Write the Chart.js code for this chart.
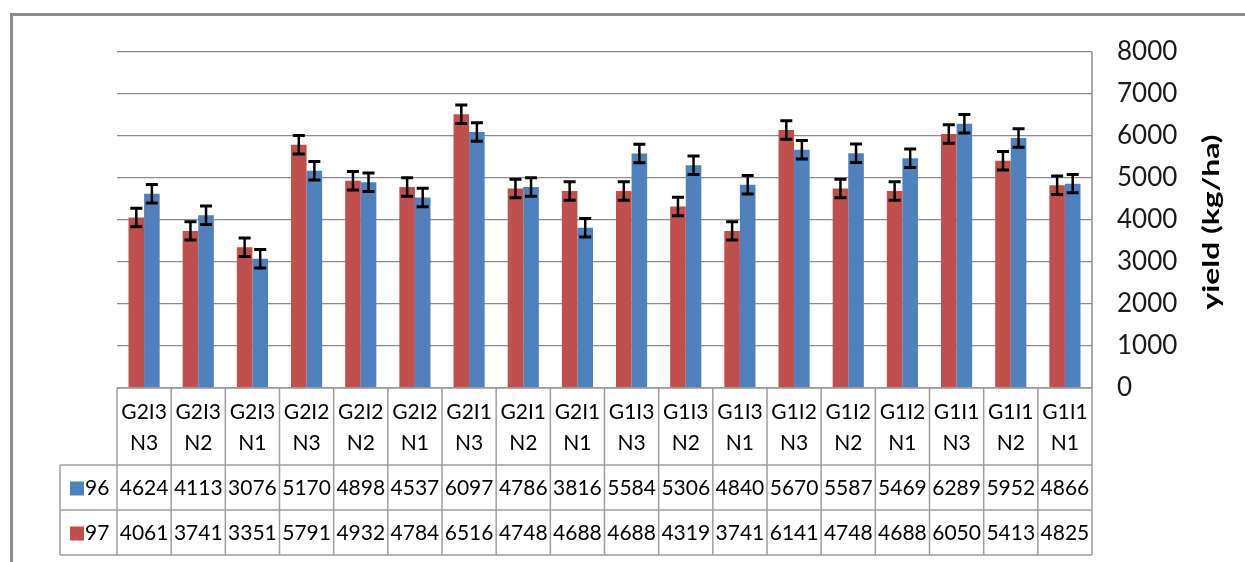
<!DOCTYPE html>
<html>
<head>
<meta charset="utf-8">
<script src="https://cdn.jsdelivr.net/npm/chart.js@4.4.1/dist/chart.umd.min.js"></script>
<style>
  html, body { margin: 0; padding: 0; background: #ffffff; }
  #wrap { width: 1245px; height: 562px; position: relative; }
  canvas { display: block; }
</style>
</head>
<body>
<div id="wrap"><canvas id="c" width="1245" height="562"></canvas></div>
<script>
// ---- data ----
const line1 = ["G2I3","G2I3","G2I3","G2I2","G2I2","G2I2","G2I1","G2I1","G2I1","G1I3","G1I3","G1I3","G1I2","G1I2","G1I2","G1I1","G1I1","G1I1"];
const line2 = ["N3","N2","N1","N3","N2","N1","N3","N2","N1","N3","N2","N1","N3","N2","N1","N3","N2","N1"];
const series96 = [4624,4113,3076,5170,4898,4537,6097,4786,3816,5584,5306,4840,5670,5587,5469,6289,5952,4866];
const series97 = [4061,3741,3351,5791,4932,4784,6516,4748,4688,4688,4319,3741,6141,4748,4688,6050,5413,4825];
const err96 = [220,220,220,220,220,220,220,220,220,220,220,220,220,220,220,220,220,220];
const err97 = [220,220,220,220,220,220,220,220,220,220,220,220,220,220,220,220,220,220];
const yTicks = [0,1000,2000,3000,4000,5000,6000,7000,8000];
const axisTitle = "yield (kg/ha)";
const name96 = "96", name97 = "97";

const RED = "#C0504D", BLUE = "#4F81BD";
const GRID = "#8c8c8c", TABLE = "#9e9e9e";
const FONT = "Lato, 'Open Sans', sans-serif";

const categories = line1.map((a, i) => [a, line2[i]]);

const ROW1_BOTTOM = 465, ROW2_BOTTOM = 510, ROW3_BOTTOM = 555, LABEL_LEFT = 60;

const framePlugin = {
  id: 'frame',
  beforeDraw(chart) {
    const ctx = chart.ctx;
    ctx.save();
    ctx.fillStyle = '#ffffff';
    ctx.fillRect(0, 0, chart.width, chart.height);
    ctx.strokeStyle = '#8c8c8c';
    ctx.lineWidth = 3;
    ctx.beginPath();
    ctx.moveTo(11.5, 562);
    ctx.lineTo(11.5, 14.5);
    ctx.lineTo(1245, 14.5);
    ctx.stroke();
    ctx.restore();
  }
};

const errorBarPlugin = {
  id: 'errorBars',
  afterDatasetsDraw(chart) {
    const ctx = chart.ctx;
    const ys = chart.scales.y;
    const errs = [err97, err96];
    ctx.save();
    ctx.strokeStyle = '#000000';
    chart.data.datasets.forEach((ds, di) => {
      const meta = chart.getDatasetMeta(di);
      meta.data.forEach((bar, i) => {
        const v = ds.data[i], e = errs[di][i];
        const yt = ys.getPixelForValue(v + e);
        const yb = ys.getPixelForValue(v - e);
        const x = bar.x;
        ctx.lineWidth = 2.5;
        ctx.beginPath();
        ctx.moveTo(x, yt); ctx.lineTo(x, yb);
        ctx.stroke();
        ctx.lineWidth = 3;
        ctx.beginPath();
        ctx.moveTo(x - 6, yt); ctx.lineTo(x + 6, yt);
        ctx.moveTo(x - 6, yb); ctx.lineTo(x + 6, yb);
        ctx.stroke();
      });
    });
    ctx.restore();
  }
};

const tablePlugin = {
  id: 'dataTable',
  afterDraw(chart) {
    const ctx = chart.ctx;
    const xs = chart.scales.x;
    const ys = chart.scales.y;
    const left = xs.left, right = xs.right;
    const n = categories.length;
    const w = (right - left) / n;
    const top = ys.getPixelForValue(0);
    ctx.save();
    ctx.strokeStyle = TABLE;
    ctx.lineWidth = 1.5;
    ctx.beginPath();
    ctx.moveTo(left, top); ctx.lineTo(right, top);
    [ROW1_BOTTOM, ROW2_BOTTOM, ROW3_BOTTOM].forEach(y => {
      ctx.moveTo(LABEL_LEFT, y); ctx.lineTo(right, y);
    });
    for (let k = 0; k <= n; k++) {
      const x = left + k * w;
      ctx.moveTo(x, top); ctx.lineTo(x, ROW3_BOTTOM);
    }
    ctx.moveTo(LABEL_LEFT, ROW1_BOTTOM); ctx.lineTo(LABEL_LEFT, ROW3_BOTTOM);
    ctx.stroke();
    ctx.strokeStyle = GRID;
    ctx.beginPath();
    ctx.moveTo(right, ys.getPixelForValue(8000)); ctx.lineTo(right, top);
    ctx.stroke();

    ctx.fillStyle = '#000000';
    ctx.font = "21px " + FONT;
    ctx.textAlign = 'center';
    ctx.textBaseline = 'middle';
    const yr1 = (ROW1_BOTTOM + ROW2_BOTTOM) / 2 + 1;
    const yr2 = (ROW2_BOTTOM + ROW3_BOTTOM) / 2 + 1;
    for (let i = 0; i < n; i++) {
      const cx = xs.getPixelForValue(i);
      ctx.fillText(String(series96[i]), cx, yr1);
      ctx.fillText(String(series97[i]), cx, yr2);
    }
    ctx.textAlign = 'left';
    ctx.fillStyle = BLUE;
    ctx.fillRect(70, yr1 - 7, 14, 14);
    ctx.fillStyle = RED;
    ctx.fillRect(70, yr2 - 7, 14, 14);
    ctx.fillStyle = '#000000';
    ctx.fillText(name96, 85, yr1);
    ctx.fillText(name97, 85, yr2);

    ctx.font = "bold 22px " + FONT;
    const tw = ctx.measureText(axisTitle).width;
    const sx = 175 / tw;
    ctx.translate(1212, 222);
    ctx.rotate(-Math.PI / 2);
    ctx.scale(sx, 1);
    ctx.textAlign = 'center';
    ctx.textBaseline = 'middle';
    ctx.fillText(axisTitle, 0, 0);
    ctx.restore();
  }
};

function build() {
  new Chart(document.getElementById('c'), {
    type: 'bar',
    data: {
      labels: categories,
      datasets: [
        { label: name97, data: series97, backgroundColor: RED, borderWidth: 0 },
        { label: name96, data: series96, backgroundColor: BLUE, borderWidth: 0 }
      ]
    },
    options: {
      responsive: false,
      animation: false,
      events: [],
      categoryPercentage: 0.575,
      barPercentage: 1.0,
      layout: { padding: { left: 117, top: 52, right: 0, bottom: 97 } },
      plugins: {
        legend: { display: false },
        tooltip: { enabled: false },
        title: { display: false }
      },
      scales: {
        x: {
          offset: true,
          grid: { display: false, drawTicks: false },
          border: { display: false },
          ticks: {
            color: '#000000',
            font: { family: FONT, size: 21, lineHeight: 1.5 },
            padding: 8,
            maxRotation: 0,
            minRotation: 0,
            autoSkip: false
          },
          afterFit(scale) { scale.height = 77; }
        },
        y: {
          position: 'right',
          min: 0,
          max: 8000,
          afterBuildTicks(scale) { scale.ticks = yTicks.map(v => ({ value: v })); },
          grid: { color: GRID, lineWidth: 1.3, drawTicks: false },
          border: { display: false },
          ticks: {
            color: '#1a1a1a',
            font: { family: FONT, size: 26 },
            padding: 25,
            callback: (v) => String(v)
          },
          afterFit(scale) { scale.width = 153; }
        }
      }
    },
    plugins: [framePlugin, errorBarPlugin, tablePlugin]
  });
}

if (document.fonts && document.fonts.load) {
  Promise.all([
    document.fonts.load("21px Lato"),
    document.fonts.load("bold 22px Lato"),
    document.fonts.load("26px Lato")
  ]).then(build, build);
} else {
  build();
}
</script>
</body>
</html>
